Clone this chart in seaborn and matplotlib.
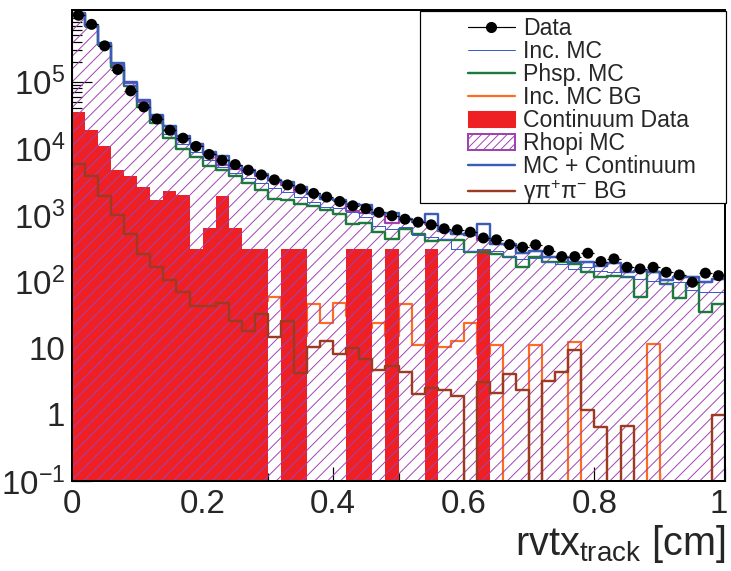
import numpy as np
import pandas as pd
import matplotlib
matplotlib.use("Agg")
import matplotlib.pyplot as plt
import seaborn as sns
from matplotlib.ticker import FixedLocator, FixedFormatter, LogLocator, NullFormatter, MultipleLocator
from matplotlib.lines import Line2D
from matplotlib.patches import Patch, Rectangle

# ---------------- data (50 bins, 0 .. 1 cm) ----------------
n_bins = 50
x_min, x_max = 0.0, 1.0

data = [1.0e6, 7.3e5, 3.47e5, 1.53e5, 7.3e4, 4.19e4, 2.76e4, 1.87e4, 1.42e4, 1.07e4,
        8.1e3, 6.6e3, 5.7e3, 4.7e3, 3.99e3, 3.36e3, 2.82e3, 2.45e3, 2.10e3, 1.85e3,
        1.59e3, 1.37e3, 1.24e3, 1.09e3, 968, 861, 776, 709, 618, 597,
        549, 449, 422, 358, 326, 355, 291, 236, 236, 265,
        199, 218, 163, 154, 163, 137, 125, 97, 133, 122]

inc_mc = [1.02e6, 6.6e5, 3.5e5, 1.78e5, 9.0e4, 4.6e4, 2.65e4, 1.65e4, 1.15e4, 8.8e3,
          6.6e3, 5.2e3, 4.3e3, 3.6e3, 3.0e3, 2.5e3, 2.2e3, 1.85e3, 1.55e3, 1.31e3,
          1.25e3, 1.09e3, 923, 692, 618, 668, 490, 462, 436, 308,
          291, 308, 291, 245, 218, 226, 194, 183, 154, 167,
          145, 137, 122, 109, 103, 92, 97, 73, 69, 69]

phsp_mc = [1.05e6, 6.8e5, 3.6e5, 1.67e5, 8.6e4, 4.19e4, 2.40e4, 1.45e4, 9.9e3, 7.4e3,
           5.5e3, 4.7e3, 3.8e3, 3.0e3, 2.33e3, 1.75e3, 1.65e3, 1.45e3, 1.34e3, 1.19e3,
           1.04e3, 735, 750, 548, 436, 618, 519, 411, 426, 422,
           274, 274, 259, 231, 163, 231, 199, 194, 183, 137,
           115, 122, 115, 58, 137, 92, 56, 92, 35, 46]

inc_mc_bg = [9000, 5500, 2800, 1500, 800, 420, 260, 170, 120, 80,
             70, 75, 45, 35, 50, 57.7, 40, 15, 45.9, 23.6,
             47, 30, 20, 23.6, 15, 45.9, 11.2, 12, 10.2, 12.5,
             23.7, 8, 11.1, 0, 0, 11.1, 0, 0, 12.1, 0,
             0, 0, 0, 0, 11.6, 0, 0, 0, 0, 0]

continuum = [3.5e4, 1.87e4, 1.07e4, 4.7e3, 3.9e3, 2.6e3, 1.65e3, 2.27e3, 1.96e3, 310,
             640, 1.9e3, 640, 310, 310, 0, 310, 310, 0, 0,
             0, 310, 310, 0, 310, 0, 0, 310, 0, 0,
             0, 310, 0, 0, 0, 0, 0, 0, 0, 0,
             0, 0, 0, 0, 0, 0, 0, 0, 0, 0]

rhopi_mc = [1.065e6, 6.9e5, 3.66e5, 1.88e5, 9.5e4, 5.0e4, 2.97e4, 1.91e4, 1.34e4, 1.15e4,
            8.2e3, 5.7e3, 4.86e3, 4.39e3, 3.85e3, 3.38e3, 2.79e3, 2.3e3, 2.08e3, 1.75e3,
            1.65e3, 1.16e3, 1.08e3, 1.04e3, 750, 873, 777, 730, 582, 519,
            490, 425, 367, 367, 265, 291, 236, 236, 194, 194,
            173, 187, 137, 145, 137, 105, 115, 118, 97, 109]

mc_cont = [1.1e6, 7.1e5, 3.77e5, 1.93e5, 9.9e4, 5.28e4, 3.14e4, 2.14e4, 1.54e4, 1.18e4,
           8.8e3, 7.6e3, 5.5e3, 4.7e3, 4.16e3, 3.38e3, 3.1e3, 2.61e3, 2.08e3, 1.75e3,
           1.65e3, 1.47e3, 1.39e3, 1.04e3, 1.06e3, 873, 777, 1.04e3, 582, 519,
           490, 735, 367, 367, 265, 291, 236, 236, 194, 194,
           173, 187, 137, 145, 137, 105, 115, 118, 97, 109]

gpipi_bg = [5.9e3, 3.78e3, 1.89e3, 980, 519, 259, 167, 105, 68.6, 43.3,
            43.3, 46.6, 25.7, 18.2, 32.4, 14.8, 25.7, 4.2, 10.2, 12.5,
            8.1, 10, 6.8, 4.6, 5.4, 4.3, 2.0, 2.5, 2.3, 1.9,
            0, 3.1, 2.1, 4.0, 2.3, 0, 3.2, 4.3, 9.3, 1.16,
            0.65, 0, 0.67, 0, 0, 0, 0, 0, 0, 0.99]

legend_labels = ["Data", "Inc. MC", "Phsp. MC", "Inc. MC BG", "Continuum Data",
                 "Rhopi MC", "MC + Continuum", "γπ$^{+}$π$^{-}$ BG"]
xtick_vals = [0, 0.2, 0.4, 0.6, 0.8, 1.0]
xtick_labels = ["0", "0.2", "0.4", "0.6", "0.8", "1"]
ytick_vals = [1e-1, 1, 10, 1e2, 1e3, 1e4, 1e5]
ytick_labels = [r"$10^{-1}$", "1", "10", r"$10^{2}$", r"$10^{3}$", r"$10^{4}$", r"$10^{5}$"]
x_label = r"rvtx$_{\mathregular{track}}$ [cm]"

# ---------------- style ----------------
sns.set_style("ticks")
plt.rcParams["font.family"] = ["Liberation Sans", "DejaVu Sans"]
plt.rcParams["mathtext.fontset"] = "custom"
plt.rcParams["mathtext.rm"] = "Liberation Sans"
plt.rcParams["mathtext.it"] = "Liberation Sans:italic"
plt.rcParams["mathtext.bf"] = "Liberation Sans:bold"
plt.rcParams["mathtext.sf"] = "Liberation Sans"
plt.rcParams["hatch.linewidth"] = 0.9

DPI = 77
W, H = 731, 571
PT = 72.0 / DPI  # points per pixel

RED = "#ee2024"
PURPLE = "#a042b2"
BLUE_THICK = "#3b5cb8"
BLUE_THIN = "#3a5ccc"
GREEN = "#1d7a3c"
ORANGE = "#ff6b1f"
BROWN = "#9c3b22"

fig = plt.figure(figsize=(W / DPI, H / DPI), dpi=DPI)
ax = fig.add_axes([72 / W, 1 - 481 / H, (725 - 72) / W, (481 - 10) / H])
ax.set_yscale("log")

edges = np.linspace(x_min, x_max, n_bins + 1)
bin_edges = edges.tolist()
centers = 0.5 * (edges[:-1] + edges[1:])
df = pd.DataFrame({
    "x": centers, "data": data, "inc_mc": inc_mc, "phsp_mc": phsp_mc,
    "inc_mc_bg": inc_mc_bg, "continuum": continuum, "rhopi_mc": rhopi_mc,
    "mc_cont": mc_cont, "gpipi_bg": gpipi_bg,
})


def step(col, color, lw_px, z):
    sns.histplot(data=df, x="x", weights=col, bins=bin_edges, element="step",
                 fill=False, color=color, linewidth=lw_px * PT, zorder=z, ax=ax)


# order: orange (hidden by red), red continuum, hatched Rhopi, brown, green, blues, data
step("inc_mc_bg", ORANGE, 2.2, 1)
sns.histplot(data=df, x="x", weights="continuum", bins=bin_edges, element="step",
             fill=True, color=RED, alpha=1, linewidth=0, zorder=2, ax=ax)
sns.histplot(data=df, x="x", weights="rhopi_mc", bins=bin_edges, element="step",
             fill=True, color=PURPLE, facecolor="none", edgecolor=PURPLE, hatch="//",
             linewidth=2.2 * PT, zorder=3, ax=ax)
step("gpipi_bg", BROWN, 2.4, 4)
step("phsp_mc", GREEN, 2.4, 5)
step("inc_mc", BLUE_THIN, 1.0, 6)
step("mc_cont", BLUE_THICK, 2.4, 7)

ax.errorbar(centers, data, xerr=(edges[1] - edges[0]) / 2, fmt="none",
            ecolor="black", elinewidth=1.2 * PT, zorder=9)
sns.scatterplot(x=centers, y=data, color="black", s=(11 * PT) ** 2,
                edgecolor="none", zorder=10, ax=ax, legend=False)

# ---------------- axes ----------------
ax.set_xlim(x_min, x_max)
ax.set_ylim(0.1, 1.2e6)
ax.set_xlabel("")
ax.set_ylabel("")

ax.yaxis.set_major_locator(FixedLocator(ytick_vals))
ax.yaxis.set_major_formatter(FixedFormatter(ytick_labels))
ax.yaxis.set_minor_locator(LogLocator(base=10, subs=np.arange(2, 10), numticks=30))
ax.yaxis.set_minor_formatter(NullFormatter())
ax.xaxis.set_major_locator(FixedLocator(xtick_vals))
# last label ("1") is drawn separately so it stays inside the image
ax.xaxis.set_major_formatter(FixedFormatter(xtick_labels[:-1] + [""]))
ax.xaxis.set_minor_locator(MultipleLocator(0.1))

ax.tick_params(axis="both", which="both", direction="in", top=False, right=False,
               width=1.2 * PT, color="black")
ax.tick_params(axis="y", which="major", length=20 * PT, pad=7 * PT, labelsize=31)
ax.tick_params(axis="y", which="minor", length=10 * PT)
ax.tick_params(axis="x", which="major", length=14 * PT, pad=8 * PT, labelsize=31)
ax.tick_params(axis="x", which="minor", length=8 * PT)
for s in ax.spines.values():
    s.set_linewidth(2 * PT)
    s.set_color("black")
    s.set_zorder(12)

ax.annotate(xtick_labels[-1], xy=(x_max, 0), xycoords=("data", "axes fraction"),
            xytext=(-6 * PT, -8 * PT), textcoords="offset points",
            ha="center", va="top", fontsize=31, annotation_clip=False)

fig.text(725 / W, 1 - 555 / H, x_label, ha="right", va="baseline", fontsize=37)

# ---------------- legend ----------------
box = Rectangle((420 / W, 1 - 203 / H), (726 - 420) / W, (203 - 11) / H,
                transform=fig.transFigure, facecolor="white", edgecolor="black",
                linewidth=1.2 * PT, zorder=20, clip_on=False)
ax.add_patch(box)

handles = [
    Line2D([], [], color="black", lw=1.2 * PT, marker="o", markersize=10 * PT),
    Line2D([], [], color=BLUE_THIN, lw=1.0 * PT),
    Line2D([], [], color=GREEN, lw=2.4 * PT),
    Line2D([], [], color=ORANGE, lw=2.2 * PT),
    Patch(facecolor=RED, edgecolor=RED),
    Patch(facecolor="white", edgecolor=PURPLE, hatch="///", linewidth=2 * PT),
    Line2D([], [], color=BLUE_THICK, lw=2.4 * PT),
    Line2D([], [], color=BROWN, lw=2.4 * PT),
]
leg = ax.legend(handles, legend_labels, loc="upper left",
                bbox_to_anchor=(468 / W, 1 - 17 / H), bbox_transform=fig.transFigure,
                frameon=False, fontsize=21.5, borderpad=0, borderaxespad=0,
                handlelength=2.04, handleheight=0.75, handletextpad=0.35,
                labelspacing=0.0)
leg.set_zorder(30)

fig.savefig("out.png", dpi=DPI)
